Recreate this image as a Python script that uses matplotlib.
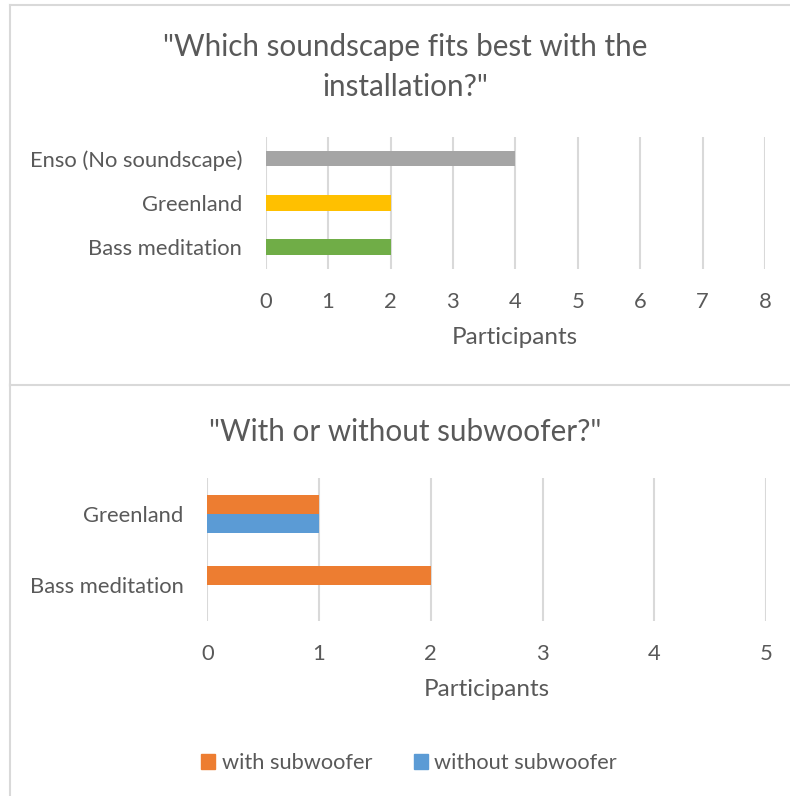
import matplotlib
matplotlib.use("Agg")
from matplotlib import pyplot as plt
from matplotlib.lines import Line2D
from matplotlib.patches import Patch

# data - top chart
soundscapes = ["Bass meditation", "Greenland", "Enso (No soundscape)"]
soundscape_votes = [2, 2, 4]
soundscape_colors = ["#70AD47", "#FFC000", "#A5A5A5"]

# data - bottom chart
sub_categories = ["Bass meditation", "Greenland"]
with_sub = [2, 1]
without_sub = [0, 1]

TXT = "#595959"
GRID = "#D9D9D9"
plt.rcParams["font.family"] = ["Lato", "DejaVu Sans"]

fig = plt.figure(figsize=(7.9, 7.96), dpi=100)
W, H = 790, 796

def frac(x0, y0, x1, y1):
    # pixel box (top-left origin) -> axes rect
    return [x0 / W, 1 - y1 / H, (x1 - x0) / W, (y1 - y0) / H]

def style(ax, xmax):
    ax.set_xlim(0, xmax)
    ax.set_xticks(range(xmax + 1))
    for s in ax.spines.values():
        s.set_visible(False)
    ax.grid(True, axis="x", color=GRID, linewidth=1.5)
    ax.set_axisbelow(True)
    ax.tick_params(length=0, colors=TXT, labelsize=15.8)
    ax.tick_params(axis="x", pad=16.5)
    ax.tick_params(axis="y", pad=17)

# top chart
ax1 = fig.add_axes(frac(265.7, 136.7, 765, 269))
ax1.barh(range(len(soundscapes)), soundscape_votes, height=0.35, color=soundscape_colors)
ax1.set_yticks(range(len(soundscapes)))
ax1.set_yticklabels(soundscapes)
ax1.set_ylim(-0.5, len(soundscapes) - 0.5)
style(ax1, 8)
fig.text(405 / W, 1 - 47 / H, "\"Which soundscape fits best with the", ha="center", va="center", fontsize=21.3, color=TXT)
fig.text(405 / W, 1 - 87 / H, "installation?\"", ha="center", va="center", fontsize=21.3, color=TXT)
fig.text(515 / W, 1 - 338 / H, "Participants", ha="center", va="center", fontsize=17.5, color=TXT)

# bottom chart
h = 0.266
ax2 = fig.add_axes(frac(207.3, 478.3, 766, 621))
ys = list(range(len(sub_categories)))
ax2.barh([y + h / 2 for y in ys], with_sub, height=h, color="#ED7D31", label="with subwoofer")
ax2.barh([y - h / 2 for y in ys], without_sub, height=h, color="#5B9BD5", label="without subwoofer")
ax2.set_yticks(ys)
ax2.set_yticklabels(sub_categories)
ax2.set_ylim(-0.5, len(sub_categories) - 0.5)
style(ax2, 5)
fig.text(405 / W, 1 - 432 / H, "\"With or without subwoofer?\"", ha="center", va="center", fontsize=21.3, color=TXT)
fig.text(487 / W, 1 - 690 / H, "Participants", ha="center", va="center", fontsize=17.5, color=TXT)

handles = [Patch(color="#ED7D31"), Patch(color="#5B9BD5")]
leg = fig.legend(handles, ["with subwoofer", "without subwoofer"], loc="center",
                 bbox_to_anchor=(409 / W, 1 - 763 / H), ncol=2, frameon=False,
                 fontsize=15.7, handlelength=0.65, handleheight=0.65, handletextpad=0.3,
                 columnspacing=1.9)
for t in leg.get_texts():
    t.set_color(TXT)

# chart borders
bc = "#D9D9D9"
for (x0, y0, x1, y1) in [(10, 5, 790, 5), (10, 5, 10, 385), (10, 385, 790, 385), (10, 385, 10, 796)]:
    fig.add_artist(Line2D([x0 / W, x1 / W], [1 - y0 / H, 1 - y1 / H], color=bc, linewidth=1.5))

fig.savefig("out.png", dpi=100)
